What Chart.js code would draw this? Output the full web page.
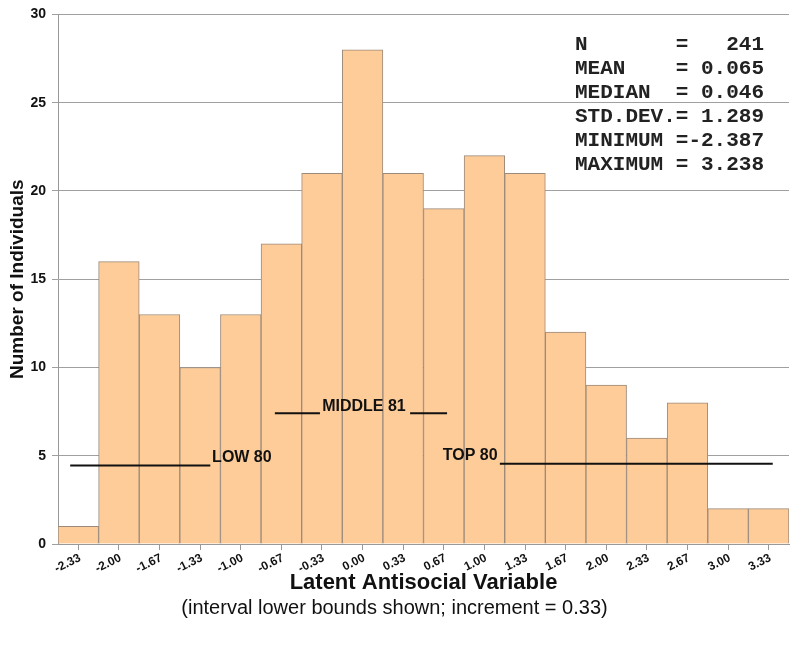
<!DOCTYPE html>
<html>
<head>
<meta charset="utf-8">
<script src="https://cdn.jsdelivr.net/npm/chart.js@4/dist/chart.umd.min.js"></script>
<style>
  html, body { margin: 0; background: #fff; }
  #wrap { width: 800px; height: 658px; }
</style>
</head>
<body>
<div id="wrap"><canvas id="chart"></canvas></div>
<script>
// interval lower bounds and counts per interval
const binLabels = ['-2.33', '-2.00', '-1.67', '-1.33', '-1.00', '-0.67', '-0.33', '0.00', '0.33',
                   '0.67', '1.00', '1.33', '1.67', '2.00', '2.33', '2.67', '3.00', '3.33']
const counts = [1, 16, 13, 10, 13, 17, 21, 28, 21, 19, 22, 21, 12, 9, 6, 8, 2, 2]

// group markers (x in bin units, y in counts)
const groupSegments = [
  [{ x: 0.3, y: 4.45 }, { x: 3.75, y: 4.45 }],
  [{ x: 5.34, y: 7.4 }, { x: 6.45, y: 7.4 }],
  [{ x: 8.67, y: 7.4 }, { x: 9.58, y: 7.4 }],
  [{ x: 10.88, y: 4.55 }, { x: 17.6, y: 4.55 }]
]
const groupLabels = [
  { text: 'LOW 80', x: 3.77, y: 4.9 },
  { text: 'MIDDLE 81', x: 6.48, y: 7.78 },
  { text: 'TOP 80', x: 9.45, y: 5.0 }
]

const statLines = [
  'N       =   241',
  'MEAN    = 0.065',
  'MEDIAN  = 0.046',
  'STD.DEV.= 1.289',
  'MINIMUM =-2.387',
  'MAXIMUM = 3.238'
]

const barData = counts.map((v, i) => ({ x: i + 0.5, y: v }))

const lineSets = groupSegments.map(seg => ({
  type: 'line',
  data: seg,
  borderColor: '#111',
  borderWidth: 2,
  pointRadius: 0,
  order: 0,
  clip: false
}))

const textPlugin = {
  id: 'texts',
  afterDatasetsDraw(chart) {
    const ctx = chart.ctx
    const xs = chart.scales.x
    const ys = chart.scales.y
    const area = chart.chartArea
    ctx.save()
    ctx.fillStyle = '#111'
    ctx.font = 'bold 16px "Liberation Sans", Arial, sans-serif'
    ctx.textAlign = 'left'
    ctx.textBaseline = 'middle'
    groupLabels.forEach(l => {
      ctx.fillText(l.text, xs.getPixelForValue(l.x) + 1, ys.getPixelForValue(l.y))
    })
    ctx.fillStyle = '#222'
    ctx.font = 'bold 21px "Liberation Mono", "Courier New", monospace'
    statLines.forEach((s, i) => {
      ctx.fillText(s, area.right - 214, area.top + 30 + i * 24)
    })
    ctx.restore()
  }
}

new Chart(document.getElementById('chart'), {
  type: 'bar',
  data: {
    datasets: [{
      data: barData,
      backgroundColor: '#fdcc99',
      borderColor: '#9c8a7a',
      borderWidth: 1,
      barPercentage: 1,
      categoryPercentage: 1,
      order: 1
    }, ...lineSets]
  },
  options: {
    responsive: true,
    maintainAspectRatio: false,
    animation: false,
    layout: { padding: { top: 6, right: 11, left: 0, bottom: 38 } },
    plugins: {
      legend: { display: false },
      tooltip: { enabled: false },
      subtitle: {
        display: true,
        position: 'bottom',
        text: '(interval lower bounds shown; increment = 0.33)',
        color: '#111',
        font: { family: '"Liberation Sans", Arial, sans-serif', size: 20, weight: 'normal' },
        padding: { top: 0, bottom: 0 }
      }
    },
    scales: {
      x: {
        type: 'linear',
        min: 0,
        max: 18,
        offset: false,
        afterFit(scale) { scale.height = 52 },
        grid: { drawOnChartArea: false, drawTicks: true, tickLength: 6, color: '#999' },
        border: { color: '#999' },
        ticks: {
          stepSize: 1,
          autoSkip: false,
          maxRotation: 26,
          minRotation: 26,
          labelOffset: 22,
          padding: 1,
          color: '#111',
          font: { family: '"Liberation Sans", Arial, sans-serif', size: 12, weight: 'bold' },
          callback: v => binLabels[v] ?? ''
        },
        title: {
          display: true,
          text: 'Latent Antisocial Variable',
          color: '#111',
          font: { family: '"Liberation Sans", Arial, sans-serif', size: 22, weight: 'bold' },
          padding: { top: 1, bottom: 0 }
        }
      },
      y: {
        min: 0,
        max: 30,
        afterFit(scale) { scale.width = 58 },
        grid: { color: '#a0a0a0', tickLength: 6 },
        border: { color: '#999' },
        ticks: {
          stepSize: 5,
          padding: 6,
          color: '#111',
          font: { family: '"Liberation Sans", Arial, sans-serif', size: 14, weight: 'bold' }
        },
        title: {
          display: true,
          text: 'Number of Individuals',
          color: '#111',
          font: { family: '"Liberation Sans", Arial, sans-serif', size: 19, weight: 'bold' },
          padding: { top: 6, bottom: 0 }
        }
      }
    }
  },
  plugins: [textPlugin]
})
</script>
</body>
</html>
